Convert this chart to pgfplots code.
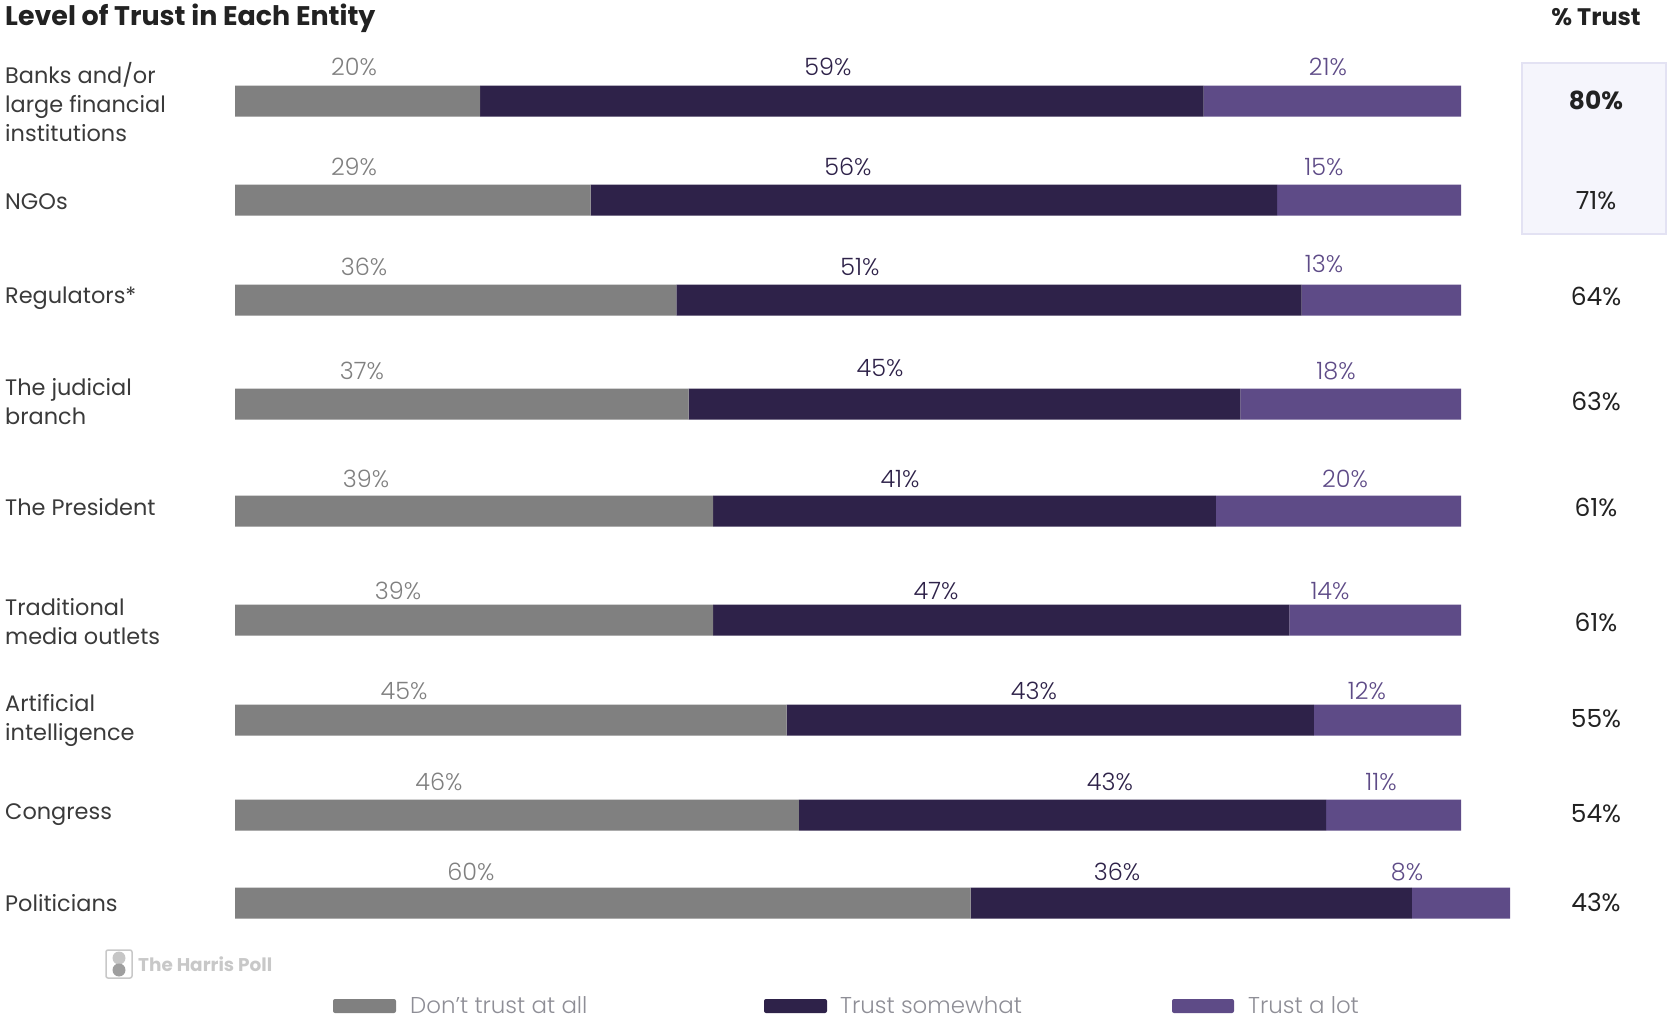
\documentclass[border=0pt]{standalone}
\usepackage{pgfplots}
\pgfplotsset{compat=1.18}
\usepackage{pgfplotstable}
\usepackage{fontspec}
\setmainfont{Poppins}
\newfontfamily\lightfont{Poppins Light}
\definecolor{cGray}{HTML}{808080}
\definecolor{cDark}{HTML}{2E2249}
\definecolor{cPurp}{HTML}{5E4B87}
\definecolor{cText}{HTML}{3A3A3A}
\definecolor{cHead}{HTML}{222222}
\definecolor{cBoxF}{HTML}{F5F5FC}
\definecolor{cBoxD}{HTML}{E3E2F3}
\definecolor{cLeg}{HTML}{8E8E96}
\definecolor{cLogo}{HTML}{C8C8C8}

% y = row centre (layout, px from top); g = Don't trust at all, d = Trust somewhat, p = Trust a lot
\pgfplotstableread{
y   g  d  p
101 20 59 21
200 29 56 15
300 36 51 13
404 37 45 18
511 39 41 20
620 39 47 14
720 45 43 12
815 46 43 11
903 60 36 8
}\trust

\begin{document}
\begin{tikzpicture}
\useasboundingbox (0,0) rectangle (1668bp,-1019bp);
\begin{scope}[x=1bp,y=-1bp]
\draw[cBoxD, fill=cBoxF, line width=2bp] (1522,63) rectangle (1666,234);
\end{scope}
\begin{axis}[at={(0,0)}, anchor=north west, scale only axis,
  width=1668bp, height=1019bp,
  xmin=-19.168, xmax=116.884, ymin=0, ymax=1019, y dir=reverse,
  hide axis, clip=false, xbar stacked, bar width=31bp]
\addplot[fill=cGray, draw=none] table[x=g,y=y]{\trust};
\addplot[fill=cDark, draw=none] table[x=d,y=y]{\trust};
\addplot[fill=cPurp, draw=none] table[x=p,y=y]{\trust};
\end{axis}
\begin{scope}[x=1bp,y=-1bp]
% title and header
\node[anchor=base west, inner sep=0, text=cHead, font=\fontsize{27}{30}\selectfont\bfseries] at (5,25) {Level of Trust in Each Entity};
\node[anchor=base, inner sep=0, text=cHead, font=\fontsize{24}{28}\selectfont\bfseries] at (1596,25) {\% Trust};
% row labels
\tikzset{rl/.style={anchor=base west, inner sep=0, text=cText, font=\fontsize{22.5}{25}\selectfont}}
\node[rl] at (5,83) {Banks and/or};
\node[rl] at (5,112) {large financial};
\node[rl] at (5,141) {institutions};
\node[rl] at (5,209) {NGOs};
\node[rl] at (5,303) {Regulators*};
\node[rl] at (5,395) {The judicial};
\node[rl] at (5,424) {branch};
\node[rl] at (5,515) {The President};
\node[rl] at (5,615) {Traditional};
\node[rl] at (5,644) {media outlets};
\node[rl] at (5,711) {Artificial};
\node[rl] at (5,740) {intelligence};
\node[rl] at (5,819) {Congress};
\node[rl] at (5,911) {Politicians};
% value labels
\tikzset{vl/.style={anchor=base, inner sep=0, font=\fontsize{24}{25}\selectfont\lightfont},
         vg/.style={vl, text=cGray},
         vd/.style={vl, text=cDark},
         vp/.style={vl, text=cPurp}}
\node[vg] at (354,75) {20\%};  \node[vd] at (828,75) {59\%};  \node[vp] at (1328,75) {21\%};
\node[vg] at (354,175) {29\%}; \node[vd] at (848,175) {56\%}; \node[vp] at (1324,175) {15\%};
\node[vg] at (364,275) {36\%}; \node[vd] at (860,275) {51\%}; \node[vp] at (1324,272) {13\%};
\node[vg] at (362,379) {37\%}; \node[vd] at (880,376) {45\%}; \node[vp] at (1336,379) {18\%};
\node[vg] at (366,487) {39\%}; \node[vd] at (900,487) {41\%}; \node[vp] at (1345,487) {20\%};
\node[vg] at (398,599) {39\%}; \node[vd] at (936,599) {47\%}; \node[vp] at (1330,599) {14\%};
\node[vg] at (404,699) {45\%}; \node[vd] at (1034,699) {43\%}; \node[vp] at (1367,699) {12\%};
\node[vg] at (439,790) {46\%}; \node[vd] at (1110,790) {43\%}; \node[vp] at (1381,790) {11\%};
\node[vg] at (471,880) {60\%}; \node[vd] at (1117,880) {36\%}; \node[vp] at (1407,880) {8\%};
% % Trust column
\tikzset{tc/.style={anchor=base, inner sep=0, text=cHead, font=\fontsize{25}{26}\selectfont}}
\node[tc, font=\fontsize{25}{27}\selectfont\bfseries] at (1596,109) {80\%};
\node[tc] at (1596,209) {71\%};
\node[tc] at (1596,305) {64\%};
\node[tc] at (1596,410) {63\%};
\node[tc] at (1596,516) {61\%};
\node[tc] at (1596,631) {61\%};
\node[tc] at (1596,727) {55\%};
\node[tc] at (1596,822) {54\%};
\node[tc] at (1596,911) {43\%};
% logo
\draw[cLogo, line width=1.5bp, rounded corners=2bp] (106,950) rectangle (132,978);
\fill[gray!45] (119,958) circle (6.5);
\fill[gray!75] (119,970) circle (6.5);
\node[anchor=base west, inner sep=0, text=cLogo, font=\fontsize{18.5}{22}\selectfont\bfseries] at (138,971) {The Harris Poll};
% legend
\tikzset{lg/.style={anchor=base west, inner sep=0, text=cLeg, font=\fontsize{23}{26}\selectfont\lightfont}}
\fill[cGray, rounded corners=2bp] (333,999) rectangle (396,1013);
\node[lg] at (410,1013) {Don’t trust at all};
\fill[cDark, rounded corners=2bp] (764,999) rectangle (827,1013);
\node[lg] at (840,1013) {Trust somewhat};
\fill[cPurp, rounded corners=2bp] (1172,999) rectangle (1234,1013);
\node[lg] at (1248,1013) {Trust a lot};
\end{scope}
\end{tikzpicture}
\end{document}
